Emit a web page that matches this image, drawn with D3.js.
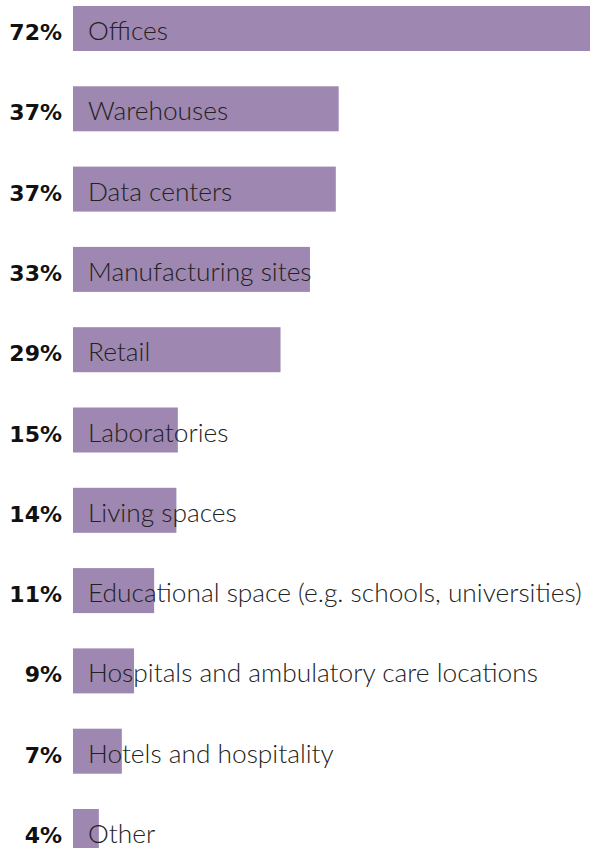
<!DOCTYPE html>
<html><head><meta charset="utf-8">
<script src="https://cdn.jsdelivr.net/npm/d3@7"></script>
<style>body{margin:0;background:#fff}svg{display:block}</style>
</head><body><div id="chart"></div>
<script>
const categories = ["Offices","Warehouses","Data centers","Manufacturing sites","Retail","Laboratories","Living spaces","Educational space (e.g. schools, universities)","Hospitals and ambulatory care locations","Hotels and hospitality","Other"];
const values = [72, 37, 36.6, 33, 28.9, 14.6, 14.4, 11.3, 8.5, 6.8, 3.6];
const valueLabels = ["72%","37%","37%","33%","29%","15%","14%","11%","9%","7%","4%"];

const W = 590, H = 848;
const svg = d3.select("#chart").append("svg").attr("width", W).attr("height", H);
const x = d3.scaleLinear().domain([0, 72]).range([73, 590]);
const step = 80.3, bw = 45;
const y = d3.scaleBand().domain(categories)
  .range([6, 6 + step * (categories.length - 1) + bw])
  .paddingInner(1 - bw / step).paddingOuter(0).align(0);

const g = svg.selectAll("g.row").data(categories).join("g").attr("class", "row");
g.append("rect")
  .attr("x", x(0)).attr("y", d => y(d))
  .attr("width", (d, i) => x(values[i]) - x(0)).attr("height", y.bandwidth())
  .attr("fill", "#9e87b0");
g.append("text")
  .attr("x", 88).attr("y", d => y(d) + 34)
  .attr("font-family", "Lato, 'Open Sans', sans-serif").attr("font-weight", 300)
  .attr("font-size", 26.3).attr("fill", "#222")
  .text(d => d);
g.append("text")
  .attr("x", 62).attr("y", d => y(d) + 34)
  .attr("text-anchor", "end")
  .attr("font-family", "'DejaVu Sans', sans-serif").attr("font-weight", 700)
  .attr("font-size", 22).attr("fill", "#111")
  .text((d, i) => valueLabels[i]);
</script></body></html>
